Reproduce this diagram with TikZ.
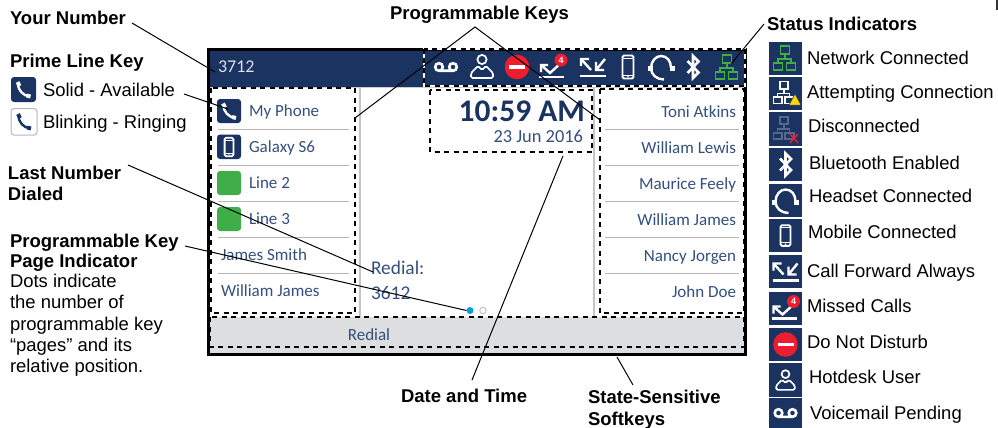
\documentclass[tikz,border=0pt]{standalone}
\usepackage{fontspec}
\setmainfont{Liberation Sans}
\newfontfamily\phonefont{Carlito}
\definecolor{navy}{HTML}{1B3360}
\definecolor{ptext}{HTML}{34507F}
\definecolor{sepgray}{HTML}{B4B6B8}
\definecolor{softgray}{HTML}{DDDEE0}
\definecolor{netgreen}{HTML}{3FAE49}
\definecolor{dimnet}{HTML}{56688C}
\definecolor{dotblue}{HTML}{0A9BE0}
\definecolor{alertred}{HTML}{ED1C2E}
\tikzset{
  x=1pt,y=-1pt,
  every node/.style={inner sep=0pt,outer sep=0pt},
  lbl/.style={anchor=base west,font=\fontsize{18.45}{20}\selectfont},
  hdg/.style={anchor=base west,font=\fontsize{18.5}{20}\selectfont\bfseries},
  keyl/.style={anchor=base west,text=ptext,font=\fontsize{17}{20}\selectfont\phonefont},
  keyr/.style={anchor=base east,text=ptext,font=\fontsize{17}{20}\selectfont\phonefont},
  conn/.style={draw=black,line width=1pt},
  dashbox/.style={draw=black,line width=1.7pt,dash pattern=on 5pt off 4.5pt},
  sep/.style={draw=sepgray,line width=0.9pt},
  tile/.style={fill=navy,draw=none},
  pics/neticon/.style={code={
    \draw[#1,line width=1.8pt] (-4.5,-12) rectangle (4.5,-4) (0,-4) -- (0,1) (-7,5) -- (-7,1) -- (6,1) -- (6,5)
      (-11.5,5) rectangle (-2.5,12) (1.5,5) rectangle (10.5,12);
  }},
  pics/phoneicon/.style={code={
    \draw[#1,line width=2.4pt] (-5.5,-6) .. controls (-6,0) and (0,7) .. (6,6.5);
    \draw[#1,line width=4pt] (-6,-7.5) -- (-4,-3.5) (3,6) -- (7,7);
  }},
  pics/mobileicon/.style={code={
    \draw[#1,line width=1.8pt,rounded corners=1.5pt] (-5.5,-11.5) rectangle (5.5,11.5);
    \draw[#1,line width=1pt] (-5,8) -- (5,8) (-5,-8.5) -- (5,-8.5);
    \fill[#1] (0,9.7) circle (0.9);
  }},
  pics/headseticon/.style={code={
    \draw[white,line width=2.4pt] (3,12.5) .. controls (-4,12.5) and (-10,8) .. (-10,1) .. controls (-10,-6) and (-5,-11) .. (0,-11) .. controls (6,-11) and (10,-6) .. (10,1);
    \draw[white,line width=5pt] (-11,-1) -- (-11,4) (11,-1) -- (11,4);
  }},
  pics/btoothicon/.style={code={
    \draw[white,line width=2.6pt,line join=miter] (-5.5,-6) -- (5.5,5.5) -- (0,11) -- (0,-11) -- (5.5,-5.5) -- (-5.5,6);
  }},
  pics/forwardicon/.style={code={
    \draw[white,line width=2.4pt] (-12,-1) -- (-12,-8) -- (-4,-8) (-12,-8) -- (-2,3);
    \draw[white,line width=2.4pt] (3,-5) -- (3,3) -- (11,3) (3,3) -- (12,-8);
    \draw[white,line width=2.4pt] (-13,9) -- (13,9);
  }},
  pics/missedicon/.style={code={
    \draw[white,line width=2.4pt] (-12,5) -- (-12,-2) -- (-5,-2) (-12,-2) -- (-3,6) -- (8,-4);
    \draw[white,line width=2.2pt] (-14,10) -- (11,10);
    \node[circle,fill=alertred,minimum size=13pt,text=white,font=\fontsize{9}{9}\selectfont\bfseries] at (8,-7) {4};
  }},
  pics/dndicon/.style={code={
    \fill[alertred] (0,0) circle (12.3);
    \draw[white,line width=3.4pt] (-8,0) -- (8,0);
  }},
  pics/hoticon/.style={code={
    \draw[white,line width=1.7pt] (0,-7.5) circle (4.6);
    \draw[white,line width=1.7pt,rounded corners=1.5pt] (-4,-1) -- (-11,6) -- (-11,11) -- (11,11) -- (11,6) -- (4,-1) -- (0,3) -- cycle;
  }},
  pics/vmicon/.style={code={
    \draw[white,line width=2.6pt] (-7,0) circle (3.8) (7,0) circle (3.8) (-7,3.8) -- (7,3.8);
  }},
}
\begin{document}
\begin{tikzpicture}
\useasboundingbox (0,0) rectangle (998,428);
% screen
\fill[white] (208.5,49.5) rectangle (745.5,354.5);
\fill[navy] (210,50) rectangle (744,86.5);
\draw[draw=sepgray!70,line width=0.8pt] (210,87) -- (744,87);
\fill[softgray] (210,317) rectangle (744,353);
\draw[draw=sepgray!80,line width=1.2pt] (360,87) -- (360,317);
\draw[draw=sepgray!80,line width=1.2pt] (594,87) -- (594,317);
\draw[black,line width=3.6pt] (208.5,49.5) rectangle (745.5,354.5);
% key separators
\foreach \yy in {129,165,201,237,273}{
  \draw[sep] (218,\yy) -- (349,\yy);
  \draw[sep] (605,\yy) -- (739,\yy);
}
% header
\node[anchor=base west,text=white!85!navy,font=\fontsize{18}{20}\selectfont\phonefont] (ext) at (218,72) {3712};
\pic at (446,67) {vmicon};
\pic at (482,67) {hoticon};
\pic at (517,67) {dndicon};
\pic at (553,67) {missedicon};
\pic at (593,67) {forwardicon};
\pic at (628,67) {mobileicon=white};
\pic at (661,67) {headseticon};
\pic at (693,67) {btoothicon};
\pic at (727,67) {neticon=netgreen};
% left keys
\fill[navy,rounded corners=3pt] (217,99) rectangle (241,123);
\pic at (229,111) {phoneicon=white};
\fill[navy,rounded corners=3pt] (217,134.5) rectangle (241,159);
\pic[scale=0.8] at (229,147) {mobileicon=white};
\fill[netgreen,rounded corners=3pt] (217,171) rectangle (241,195);
\fill[netgreen,rounded corners=3pt] (217,207) rectangle (241,231);
\node[keyl] (k1) at (249,116) {My Phone};
\node[keyl] (k2) at (249,152) {Galaxy S6};
\node[keyl] (k3) at (249,188) {Line 2};
\node[keyl] (k4) at (249,224) {Line 3};
\node[keyl] (k5) at (221,260) {James Smith};
\node[keyl] (k6) at (221,296) {William James};
% right keys
\node[keyr] (r1) at (736,117) {Toni Atkins};
\node[keyr] (r2) at (736,153) {William Lewis};
\node[keyr] (r3) at (736,189) {Maurice Feely};
\node[keyr] (r4) at (736,225) {William James};
\node[keyr] (r5) at (736,261) {Nancy Jorgen};
\node[keyr] (r6) at (736,297) {John Doe};
% centre
\node[anchor=base east,text=navy,font=\fontsize{31.5}{32}\selectfont\phonefont\bfseries] (clock) at (585,121) {10:59 AM};
\node[anchor=base east,text=ptext,font=\fontsize{18.4}{20}\selectfont\phonefont] (date) at (583,142) {23 Jun 2016};
\node[anchor=base west,text=ptext,font=\fontsize{19.4}{20}\selectfont\phonefont] (red1) at (371,274) {Redial:};
\node[anchor=base west,text=ptext,font=\fontsize{19.4}{20}\selectfont\phonefont] (red2) at (371,299) {3612};
\node[circle,fill=dotblue,minimum size=7pt] (dot1) at (470,310.5) {};
\node[circle,draw=sepgray,line width=0.8pt,fill=white,minimum size=6.5pt] (dot2) at (483,310.5) {};
\node[anchor=base,text=ptext,font=\fontsize{17}{20}\selectfont\phonefont] (soft) at (369,340) {Redial};
% dashed regions
\draw[dashbox] (211,88) rectangle (355,313);
\draw[dashbox] (430,90) rectangle (592,152);
\draw[dashbox] (600,89) rectangle (744,313);
\draw[dashbox] (210,317) rectangle (744,347);
\draw[white,line width=1.7pt] (424,49) rectangle (745,86);
\draw[dashbox] (424,49) rectangle (745,86);
% left labels
\node[hdg] (your) at (10,25) {Your Number};
\node[hdg] (prime) at (10,67) {Prime Line Key};
\fill[navy,rounded corners=3pt] (11,77) rectangle (36,102);
\pic at (23.5,89.5) {phoneicon=white};
\draw[sepgray,fill=white,line width=1pt,rounded corners=3pt] (11,108.5) rectangle (37,135);
\pic at (24,121.5) {phoneicon=navy};
\node[lbl] (solid) at (43,96) {Solid - Available};
\node[lbl] (blink) at (43,128) {Blinking - Ringing};
\node[hdg] (last1) at (8,179) {Last Number};
\node[hdg] (last2) at (8,200) {Dialed};
\node[hdg] (pk1) at (10,247) {Programmable Key};
\node[hdg] (pk2) at (10,267) {Page Indicator};
\node[lbl] (d1) at (10,287) {Dots indicate};
\node[lbl] (d2) at (10,308) {the number of};
\node[lbl] (d3) at (10,330) {programmable key};
\node[lbl] (d4) at (10,351) {“pages” and its};
\node[lbl] (d5) at (10,372) {relative position.};
% top and bottom labels
\node[hdg] (pkeys) at (390,20) {Programmable Keys};
\node[hdg] (status) at (767,31) {Status Indicators};
\node[hdg] (dt) at (401,402) {Date and Time};
\node[hdg] (ss1) at (588,403) {State-Sensitive};
\node[hdg] (ss2) at (588,425) {Softkeys};
% legend
\foreach \ya/\yb in {42/74.5,77/110,112/146,148/181,184/217,219/252,255/288,292/325,328/361,363/397,398/428}{
  \fill[tile] (769,\ya) rectangle (802,\yb);
}
\pic at (785,58) {neticon=netgreen};
\pic[scale=0.92] at (784,92.5) {neticon=white};
\fill[yellow!75!orange,draw=navy,line width=0.5pt] (789,105) -- (795,94) -- (801,105) -- cycle;
\pic[scale=0.92] at (784,128) {neticon=dimnet};
\draw[alertred,line width=1.5pt] (790,134) -- (798,143) (798,134) -- (790,143);
\pic at (785.5,164.5) {btoothicon};
\pic at (785.5,200.5) {headseticon};
\pic[scale=0.9] at (785.5,235.5) {mobileicon=white};
\pic at (785.5,271.5) {forwardicon};
\pic at (785.5,308.5) {missedicon};
\pic at (785.5,344.5) {dndicon};
\pic[scale=0.85] at (785.5,380.5) {hoticon};
\pic at (785.5,413) {vmicon};
\node[lbl] (s1) at (807,65) {Network Connected};
\node[lbl] (s2) at (807,98) {Attempting Connection};
\node[lbl] (s3) at (808,132) {Disconnected};
\node[lbl] (s4) at (809,169) {Bluetooth Enabled};
\node[lbl] (s5) at (809,202) {Headset Connected};
\node[lbl] (s6) at (808,238) {Mobile Connected};
\node[lbl] (s7) at (807,277) {Call Forward Always};
\node[lbl] (s8) at (807,312) {Missed Calls};
\node[lbl] (s9) at (807,348) {Do Not Disturb};
\node[lbl] (s10) at (809,383) {Hotdesk User};
\node[lbl] (s11) at (810,419) {Voicemail Pending};
% corner mark
\fill[black!80] (996,0) rectangle (998,10);
% connector ends
\coordinate (cyour) at (132,23);
\coordinate (cext) at (215,72);
\coordinate (csolid) at (184,94);
\coordinate (cphone) at (228,109);
\coordinate (capex) at (475,27);
\coordinate (ckl) at (355,118);
\coordinate (ckr) at (600,120);
\coordinate (cstat) at (764,24);
\coordinate (cnet) at (731,64);
\coordinate (clast) at (128,165);
\coordinate (cred) at (373,272);
\coordinate (cpk) at (185,246);
\coordinate (cdate) at (563,156);
\coordinate (cdt) at (472,380);
\coordinate (csoft) at (617,357);
\coordinate (css) at (633,385);
\draw[conn] (cyour) -- (cext);
\draw[conn] (csolid) -- (cphone);
\draw[conn] (ckl) -- (capex) -- (ckr);
\draw[conn] (cstat) -- (cnet);
\draw[conn] (clast) -- (cred);
\draw[conn] (cpk) -- (dot1.west);
\draw[conn] (cdt) -- (cdate);
\draw[conn] (css) -- (csoft);
\end{tikzpicture}
\end{document}
